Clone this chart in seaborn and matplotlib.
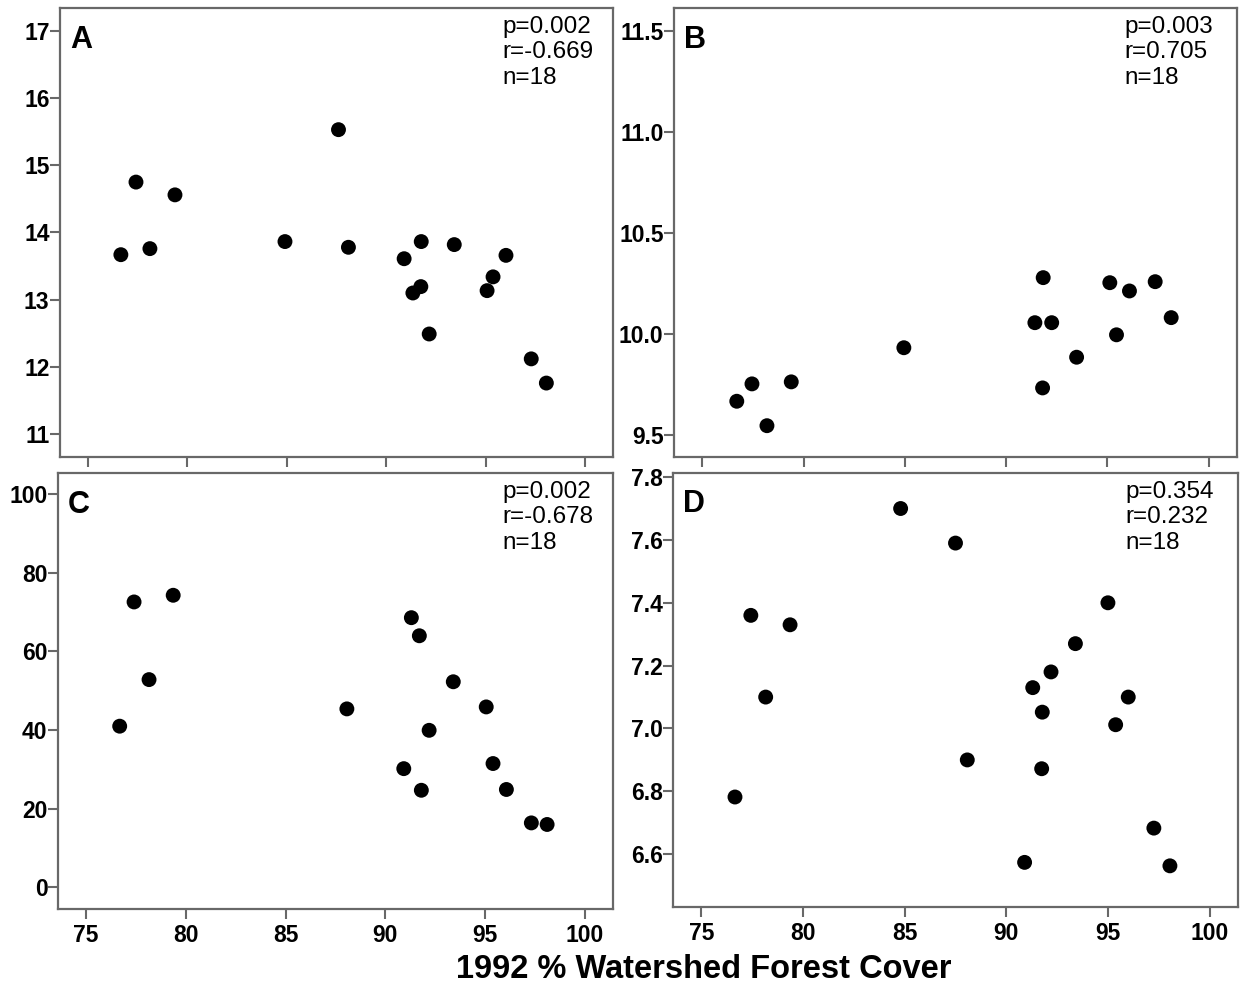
import matplotlib
matplotlib.use("Agg")
import matplotlib.pyplot as plt
import seaborn as sns
import pandas as pd

# ---------------- data ----------------
xA = [76.66, 77.42, 78.12, 79.38, 84.91, 87.60, 88.10, 90.90, 91.34, 91.74,
      91.76, 92.16, 93.42, 95.07, 95.37, 96.02, 97.29, 98.05]
yA = [13.67, 14.75, 13.76, 14.56, 13.865, 15.53, 13.78, 13.61, 13.10, 13.195,
      13.865, 12.49, 13.82, 13.135, 13.34, 13.66, 12.12, 11.76]

xB = [76.70, 77.45, 78.19, 79.39, 84.95, 91.42, 91.80, 91.83, 92.25, 93.48,
      95.12, 95.45, 96.09, 97.36, 98.15]
yB = [9.669, 9.755, 9.548, 9.765, 9.934, 10.058, 9.735, 10.281, 10.058, 9.887,
      10.256, 9.998, 10.215, 10.261, 10.083]

xC = [76.69, 77.41, 78.16, 79.37, 88.07, 90.92, 91.30, 91.70, 91.80, 92.19,
      93.40, 95.05, 95.39, 96.06, 97.31, 98.10]
yC = [41.0, 72.6, 52.85, 74.3, 45.4, 30.2, 68.6, 64.0, 24.7, 39.95,
      52.3, 45.9, 31.5, 24.9, 16.4, 16.0]

xD = [76.65, 77.43, 78.16, 79.36, 84.80, 87.50, 88.08, 90.90, 91.30, 91.74,
      91.77, 92.20, 93.40, 95.00, 95.38, 96.00, 97.26, 98.05]
yD = [6.782, 7.36, 7.10, 7.33, 7.70, 7.59, 6.90, 6.574, 7.13, 6.872,
      7.052, 7.18, 7.27, 7.40, 7.012, 7.10, 6.683, 6.563]

panel_letters = ["A", "B", "C", "D"]
stats_text = ["p=0.002\nr=-0.669\nn=18",
              "p=0.003\nr=0.705\nn=18",
              "p=0.002\nr=-0.678\nn=18",
              "p=0.354\nr=0.232\nn=18"]
x_ticks = [75, 80, 85, 90, 95, 100]
yticksA = [11, 12, 13, 14, 15, 16, 17]
yticksB = [9.5, 10.0, 10.5, 11.0, 11.5]
yticksC = [0, 20, 40, 60, 80, 100]
yticksD = [6.6, 6.8, 7.0, 7.2, 7.4, 7.6, 7.8]
x_label = "1992 % Watershed Forest Cover"

# ---------------- style ----------------
sns.set_style("ticks")
plt.rcParams["font.family"] = ["Liberation Sans", "DejaVu Sans"]
plt.rcParams["font.weight"] = "bold"
plt.rcParams["text.color"] = "black"

W, H = 1244, 991
fig = plt.figure(figsize=(W / 100, H / 100), dpi=100)


def add_axes(l, r, t, b):
    return fig.add_axes([l / W, 1 - b / H, (r - l) / W, (b - t) / H])


axA = add_axes(60, 613, 8, 457)
axB = add_axes(674, 1237, 8, 457)
axC = add_axes(58, 613, 473, 909)
axD = add_axes(673, 1238, 473, 907)

spec = [
    (axA, xA, yA, yticksA, (10.66, 17.34), "{:.0f}", False),
    (axB, xB, yB, yticksB, (9.393, 11.616), "{:.1f}", False),
    (axC, xC, yC, yticksC, (-5.5, 105.4), "{:.0f}", True),
    (axD, xD, yD, yticksD, (6.432, 7.813), "{:.1f}", True),
]

edge = "#686868"
for i, (ax, xs, ys, yt, ylim, fmt, show_x) in enumerate(spec):
    df = pd.DataFrame({"x": xs, "y": ys})
    sns.scatterplot(data=df, x="x", y="y", ax=ax, color="black", s=115,
                    edgecolor="none", linewidth=0, legend=False, zorder=3)
    ax.set_xlim(73.6, 101.4)
    ax.set_ylim(*ylim)
    ax.set_xticks(x_ticks)
    ax.set_yticks(yt)
    ax.set_yticklabels([fmt.format(v) for v in yt])
    ax.set_xlabel("")
    ax.set_ylabel("")
    for sp in ax.spines.values():
        sp.set_visible(True)
        sp.set_color(edge)
        sp.set_linewidth(1.6)
    ax.tick_params(axis="both", direction="out", length=7, width=1.5,
                   color=edge, labelsize=16.5, labelcolor="black",
                   bottom=True, left=True, top=False, right=False)
    ax.tick_params(axis="y", pad=0.5)
    ax.tick_params(axis="x", pad=4, labelbottom=show_x)
    for lab in ax.get_xticklabels() + ax.get_yticklabels():
        lab.set_fontweight("bold")
    ax.text(0.018, 0.962, panel_letters[i], transform=ax.transAxes,
            fontsize=22, fontweight="bold", ha="left", va="top",
            color="black")
    ax.text(0.80, 0.982, stats_text[i], transform=ax.transAxes,
            fontsize=17.5, fontweight="normal", ha="left", va="top",
            linespacing=1.2, color="black")

fig.text(703.5 / W, 1 - 970 / H, x_label, ha="center", va="center",
         fontsize=23.5, fontweight="bold", color="black")

fig.savefig("out.png", dpi=100, facecolor="white")
